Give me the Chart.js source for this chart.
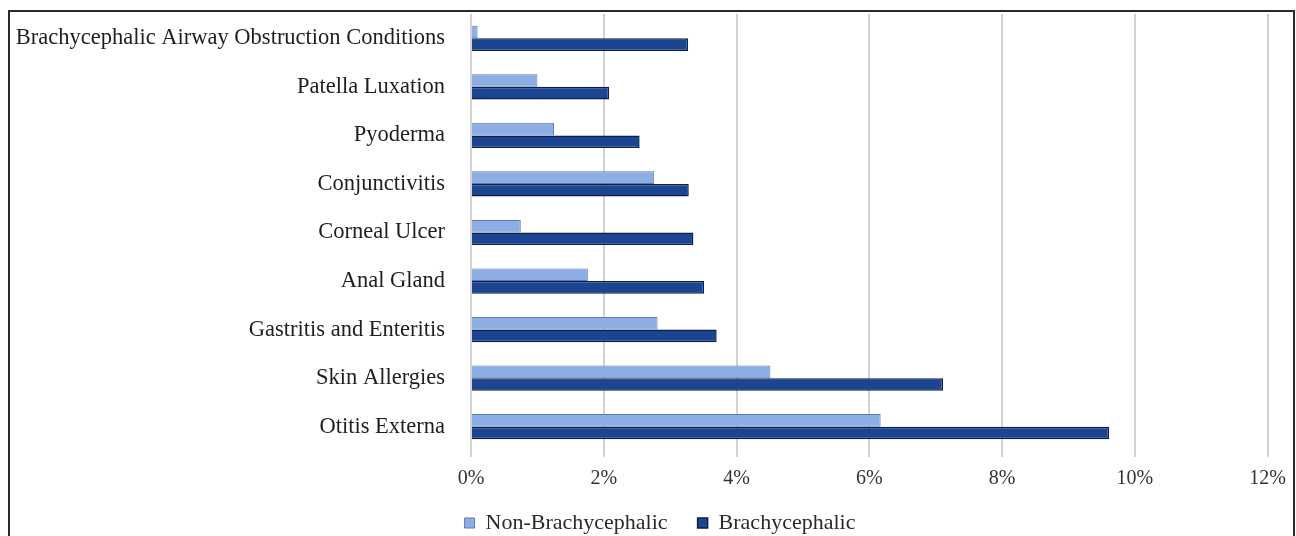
<!DOCTYPE html>
<html>
<head>
<meta charset="utf-8">
<script src="https://cdn.jsdelivr.net/npm/chart.js@4.4.1/dist/chart.umd.min.js"></script>
<style>
  html, body { margin: 0; padding: 0; background: #fff; }
  #wrap { width: 1296px; height: 536px; position: relative; }
</style>
</head>
<body>
<div id="wrap"><canvas id="c" width="1296" height="536"></canvas></div>
<script>
// Conditions, listed top to bottom
const conditions = [
  'Brachycephalic Airway Obstruction Conditions',
  'Patella Luxation',
  'Pyoderma',
  'Conjunctivitis',
  'Corneal Ulcer',
  'Anal Gland',
  'Gastritis and Enteritis',
  'Skin Allergies',
  'Otitis Externa'
];

// Prevalence (%) per group
const nonBrachycephalic = [0.1, 1.0, 1.25, 2.76, 0.75, 1.76, 2.81, 4.51, 6.17];
const brachycephalic    = [3.27, 2.08, 2.54, 3.28, 3.35, 3.51, 3.70, 7.11, 9.61];

// Axis ticks (%)
const xTicks = [0, 2, 4, 6, 8, 10, 12];

const serif = '"Liberation Serif", "DejaVu Serif", serif';

// Frame around the whole figure
const framePlugin = {
  id: 'frame',
  afterDraw(chart) {
    const ctx = chart.ctx;
    ctx.save();
    ctx.strokeStyle = '#2a2a2a';
    ctx.lineWidth = 2;
    ctx.strokeRect(9, 11, 1285, 540);
    ctx.restore();
  }
};

// Nudge the legend right of the canvas centre and start its box a little higher
const legendShift = {
  id: 'legendShift',
  afterLayout(chart) {
    const lg = chart.legend;
    if (lg) {
      lg.left += 20;
      lg.right += 20;
      lg.top -= 9;
    }
  }
};

new Chart(document.getElementById('c'), {
  type: 'bar',
  data: {
    labels: conditions,
    datasets: [
      {
        label: 'Non-Brachycephalic',
        data: nonBrachycephalic,
        backgroundColor: '#8daee5',
        borderColor: '#5d7cb4',
        borderWidth: 1,
        categoryPercentage: 0.52,
        barPercentage: 1.0
      },
      {
        label: 'Brachycephalic',
        data: brachycephalic,
        backgroundColor: '#1c4591',
        borderColor: '#0a1f4d',
        borderWidth: 1.5,
        categoryPercentage: 0.52,
        barPercentage: 1.0
      }
    ]
  },
  options: {
    indexAxis: 'y',
    responsive: false,
    animation: false,
    devicePixelRatio: 1,
    layout: { padding: { top: 14, left: 10, right: 26, bottom: 0 } },
    scales: {
      x: {
        min: 0,
        max: 12,
        afterBuildTicks(scale) {
          scale.ticks = xTicks.map(v => ({ value: v }));
        },
        afterFit(scale) { scale.height = 40; },
        grid: {
          color: '#d2d2d2',
          lineWidth: 2,
          drawTicks: true,
          tickLength: 6,
          tickColor: '#d2d2d2'
        },
        border: { display: false },
        ticks: {
          padding: 10,
          color: '#333',
          font: { family: serif, size: 20 },
          callback: v => v + '%'
        }
      },
      y: {
        afterFit(scale) {
          scale.width = 461;
          scale.paddingTop = 0;
          scale.paddingBottom = 0;
        },
        grid: { display: false, drawTicks: false },
        border: { display: false },
        ticks: {
          padding: 26,
          color: '#1e1e1e',
          font: { family: serif, size: 22.5 },
          autoSkip: false
        }
      }
    },
    plugins: {
      legend: {
        position: 'bottom',
        maxHeight: 45,
        labels: {
          boxWidth: 10,
          boxHeight: 10,
          padding: 30,
          color: '#2a2a2a',
          font: { family: serif, size: 22 }
        }
      },
      tooltip: { enabled: false }
    }
  },
  plugins: [framePlugin, legendShift]
});
</script>
</body>
</html>
